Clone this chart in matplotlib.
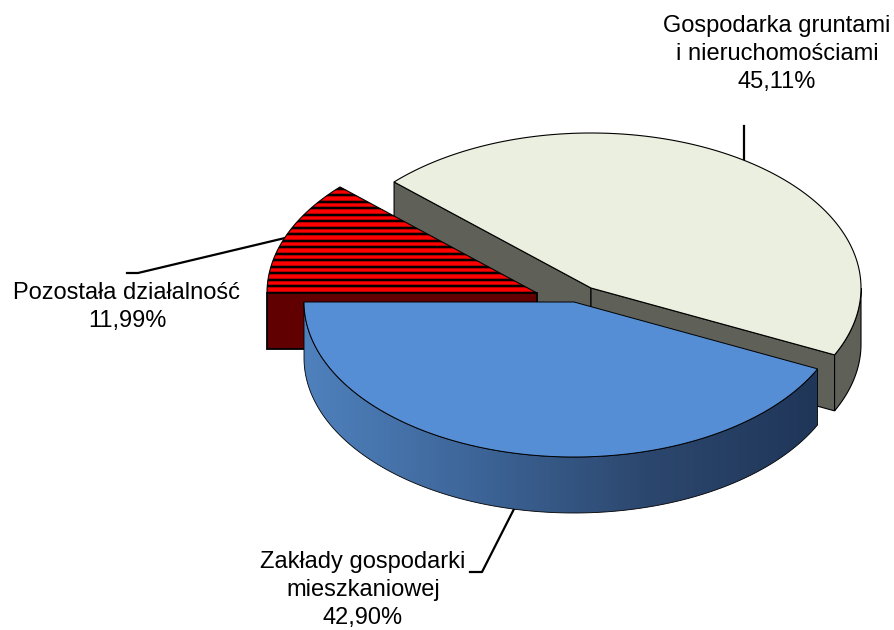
import numpy as np
import matplotlib
matplotlib.use("Agg")
import matplotlib.pyplot as plt
from matplotlib.colors import LinearSegmentedColormap
from matplotlib.patches import Polygon

# chart data, in drawing order from the 180 degree mark
labels = ["Zakłady gospodarki\nmieszkaniowej\n42,90%",
          "Gospodarka gruntami\ni nieruchomościami\n45,11%",
          "Pozostała działalność\n11,99%"]
shares = [42.90, 45.11, 11.99]

top_colors = ["#558ed5", "#ebefdf", "#ff0000"]
side_colors = [None, "#5f6058", "#600000"]

# pie layout in pixels
RX, RY, DEPTH = 270, 155, 56
centers = [(574, 302), (591, 288), (537, 293)]
START = 180.0

plt.rcParams["font.family"] = ["Liberation Sans", "DejaVu Sans"]

fig = plt.figure(figsize=(8.95, 6.3), dpi=100)
ax = fig.add_axes([0, 0, 1, 1])
ax.axis("off")


def rim(center, t0, t1, n=200):
    t = np.radians(np.linspace(t0, t1, n))
    return np.column_stack([center[0] + RX * np.cos(t), center[1] - RY * np.sin(t)])


def wall(center, t0, t1):
    # outer wall between two angles, top rim then the rim shifted down
    up = rim(center, t0, t1)
    return np.vstack([up, (up + [0, DEPTH])[::-1]])


def radial(center, t):
    p = rim(center, t, t, 1)[0]
    c = np.array(center, dtype=float)
    return np.array([c, p, p + [0, DEPTH], c + [0, DEPTH]])


edges = START + np.cumsum([0] + shares) * 3.6
blue, cream, red = 0, 1, 2

# cream back face goes under the red slice
t0, t1 = edges[cream], edges[cream + 1]
ax.add_patch(Polygon(radial(centers[cream], t1 % 360), fc=side_colors[cream], ec="black", lw=0.8, zorder=1.5))

# red slice, stripes have a dark red halo round the black
red_t0, red_t1 = edges[red], edges[red + 1]
red_top = np.vstack([[centers[red]], rim(centers[red], red_t0, red_t1)])
red_patch = Polygon(red_top, closed=True, fc=top_colors[red], ec="none", zorder=2)
ax.add_patch(red_patch)
ys = np.arange(188.5, 295, 6.5)
halo = ax.hlines(ys, 260, 545, color="#a00000", lw=2.6, zorder=2.05)
halo.set_clip_path(red_patch)
stripes = ax.hlines(ys, 260, 545, color="black", lw=1.4, zorder=2.1)
stripes.set_clip_path(red_patch)
ax.add_patch(Polygon(red_top, closed=True, fc="none", ec="black", lw=0.8, zorder=2.2))
ax.add_patch(Polygon(radial(centers[red], 180), fc=side_colors[red], ec="black", lw=1.3, zorder=2.3))

# rest of the cream slice
ax.add_patch(Polygon(radial(centers[cream], t0), fc=side_colors[cream], ec="black", lw=0.8, zorder=3))
ax.add_patch(Polygon(wall(centers[cream], t0, 360), fc=side_colors[cream], ec="black", lw=0.8, zorder=3))
ax.add_patch(Polygon(np.vstack([[centers[cream]], rim(centers[cream], t0, t1)]), closed=True,
                     fc=top_colors[cream], ec="black", lw=0.8, zorder=3.1))

# blue slice, wall gets a left to right gradient
t0, t1 = edges[blue], edges[blue + 1]
blue_wall = Polygon(wall(centers[blue], t0, t1), fc="none", ec="black", lw=0.6, zorder=4.1)
ax.add_patch(blue_wall)
cmap = LinearSegmentedColormap.from_list("side", ["#4f81bd", "#3d6598", "#2c476e", "#1f3658"])
grad = ax.imshow(np.linspace(0, 1, 256)[None, :], cmap=cmap, aspect="auto",
                 extent=(304, 819, 520, 300), zorder=4)
grad.set_clip_path(blue_wall)
ax.add_patch(Polygon(np.vstack([[centers[blue]], rim(centers[blue], t0, t1)]), closed=True,
                     fc=top_colors[blue], ec="black", lw=0.7, zorder=4.2))

# leader lines
ax.plot([744, 744], [126, 162], color="black", lw=1.6, zorder=1)
ax.plot([127, 138, 285], [273, 273, 238], color="black", lw=1.6, zorder=1)
ax.plot([515, 482, 470], [507, 572, 572], color="black", lw=1.6, zorder=1)

# labels
FS = 17
ax.text(363, 590, labels[blue], ha="center", va="center", fontsize=FS, linespacing=1.36)
ax.text(777, 54, labels[cream], ha="center", va="center", fontsize=FS, linespacing=1.36)
ax.text(127, 307, labels[red], ha="center", va="center", fontsize=FS, linespacing=1.36)

ax.set_xlim(0, 895)
ax.set_ylim(630, 0)

fig.savefig("out.png", dpi=100)
